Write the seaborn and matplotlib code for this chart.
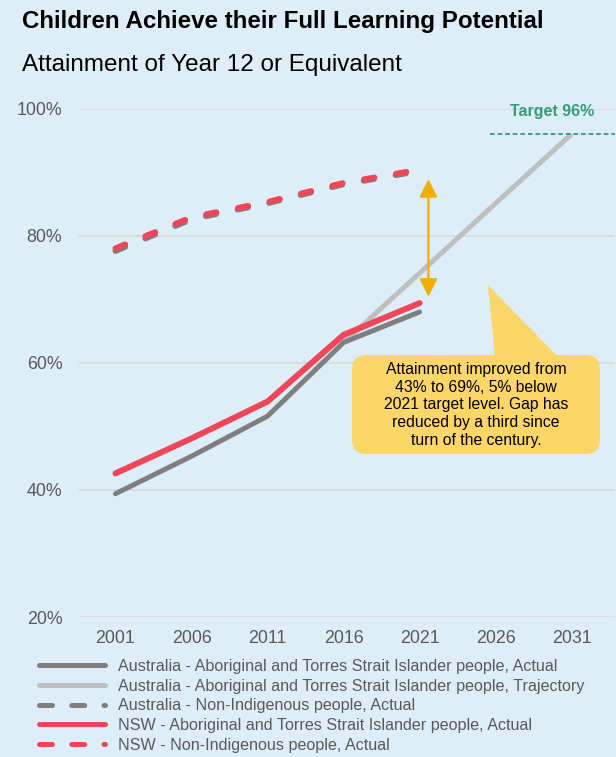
import matplotlib
matplotlib.use("Agg")
import matplotlib.pyplot as plt
import seaborn as sns
from matplotlib.patches import FancyBboxPatch, Polygon
from matplotlib.lines import Line2D

# ---- data ----
years = [2001, 2006, 2011, 2016, 2021]
traj_years = [2016, 2021, 2026, 2031]
aus_atsi_actual = [39.4, 45.3, 51.6, 63.2, 68.0]
aus_atsi_trajectory = [63.2, 74.1, 85.1, 96.0]
aus_nonind_actual = [77.6, 82.6, 85.1, 88.1, 90.2]
nsw_atsi_actual = [42.6, 48.1, 53.9, 64.4, 69.4]
nsw_nonind_actual = [78.0, 82.9, 85.3, 88.3, 90.4]
target_value = 96
xtick_years = [2001, 2006, 2011, 2016, 2021, 2026, 2031]
ytick_values = [20, 40, 60, 80, 100]
labels = [
    "Australia - Aboriginal and Torres Strait Islander people, Actual",
    "Australia - Aboriginal and Torres Strait Islander people, Trajectory",
    "Australia - Non-Indigenous people, Actual",
    "NSW - Aboriginal and Torres Strait Islander people, Actual",
    "NSW - Non-Indigenous people, Actual",
]

BG = "#DEEEF9"
DARK = "#7F7F7F"
LIGHT = "#BFBFBF"
RED = "#EF4759"
GOLD = "#F0AE00"
BOX = "#FDD66A"
GREEN = "#3A9A7A"
TXT = "#595959"

sns.set_theme(style="white")
plt.rcParams["font.family"] = ["Liberation Sans", "DejaVu Sans"]

W, H = 616, 757
fig = plt.figure(figsize=(W / 100, H / 100), dpi=100, facecolor=BG)
ax = fig.add_axes([79 / W, 1 - 617 / H, (615 - 79) / W, (617 - 108.6) / H])
ax.set_facecolor(BG)

dash = (0, (1.75, 3.67))
sns.lineplot(x=years, y=aus_nonind_actual, ax=ax, color=DARK, lw=4.3,
             linestyle=dash, dash_capstyle="round")
sns.lineplot(x=traj_years, y=aus_atsi_trajectory, ax=ax, color=LIGHT, lw=3.6,
             solid_capstyle="butt")
sns.lineplot(x=years, y=aus_atsi_actual, ax=ax, color=DARK, lw=3.6,
             solid_capstyle="round")
sns.lineplot(x=years, y=nsw_atsi_actual, ax=ax, color=RED, lw=4.3,
             solid_capstyle="round")
sns.lineplot(x=years, y=nsw_nonind_actual, ax=ax, color=RED, lw=4.3,
             linestyle=dash, dash_capstyle="round")

ax.set_xlim(1998.6, 2033.85)
ax.set_ylim(20, 100)
ax.set_xticks(xtick_years)
ax.set_xticklabels([str(y) for y in xtick_years])
ax.set_yticks(ytick_values)
ax.set_yticklabels([f"{v}%" for v in ytick_values])
ax.tick_params(axis="both", length=0, labelsize=12.8, labelcolor=TXT)
ax.tick_params(axis="y", pad=12)
ax.tick_params(axis="x", pad=9.5)
ax.grid(axis="y", color="#D9D9D9", lw=1.3)
ax.set_axisbelow(True)
for s in ax.spines.values():
    s.set_visible(False)
ax.set_xlabel("")
ax.set_ylabel("")

# target
ax.plot([2025.64, 2033.85], [target_value, target_value], color=GREEN, lw=1.3,
        linestyle=(0, (2.6, 1.6)), clip_on=False)
ax.text(2029.7, 99.6, f"Target {target_value}%", color=GREEN, fontsize=11.5,
        fontweight="bold", ha="center", va="center")

# gap arrow
ax.annotate("", xy=(2021.58, 70.4), xytext=(2021.58, 88.9),
            arrowprops=dict(arrowstyle="<|-|>,head_length=0.4,head_width=0.2",
                            color=GOLD, lw=1.6, mutation_scale=27,
                            shrinkA=0, shrinkB=0))

# callout box (figure coords)
x0, x1 = 352 / W, 600 / W
y0, y1 = 1 - 454 / H, 1 - 355 / H
box = FancyBboxPatch((x0, y0), x1 - x0, y1 - y0,
                     boxstyle="round,pad=0,rounding_size=0.024",
                     mutation_aspect=W / H, transform=fig.transFigure,
                     facecolor=BOX, edgecolor="none", zorder=5)
fig.patches.append(box)
tri = Polygon([(488 / W, 1 - 285 / H), (495 / W, 1 - 357 / H),
               (558 / W, 1 - 357 / H)], closed=True,
              transform=fig.transFigure, facecolor=BOX, edgecolor="none", zorder=5)
fig.patches.append(tri)
fig.text(476 / W, 1 - 405 / H,
         "Attainment improved from\n43% to 69%, 5% below\n2021 target level. Gap has\nreduced by a third since\nturn of the century.",
         ha="center", va="center", fontsize=11.3, color="black",
         linespacing=1.23, zorder=6)

# titles
fig.text(22 / W, 1 - 28.3 / H, "Children Achieve their Full Learning Potential",
         fontsize=17.4, fontweight="bold", color="black", va="baseline")
fig.text(22 / W, 1 - 70.7 / H, "Attainment of Year 12 or Equivalent",
         fontsize=17.5, color="black", va="baseline")

# legend
leg_dash = (0, (2.6, 3.85))
handles = [
    Line2D([], [], color=DARK, lw=3.6, solid_capstyle="round"),
    Line2D([], [], color=LIGHT, lw=3.6, solid_capstyle="round"),
    Line2D([], [], color=DARK, lw=3.6, linestyle=leg_dash, dash_capstyle="round"),
    Line2D([], [], color=RED, lw=3.6, solid_capstyle="round"),
    Line2D([], [], color=RED, lw=3.6, linestyle=leg_dash, dash_capstyle="round"),
]
leg = fig.legend(handles, labels, loc="upper left",
                 bbox_to_anchor=(39.2 / W, 1 - 659 / H), frameon=False,
                 fontsize=11.6, handlelength=4.1, handletextpad=0.81,
                 labelspacing=0.29, borderpad=0, borderaxespad=0)
for t in leg.get_texts():
    t.set_color(TXT)

fig.savefig("out.png", dpi=100, facecolor=BG)
